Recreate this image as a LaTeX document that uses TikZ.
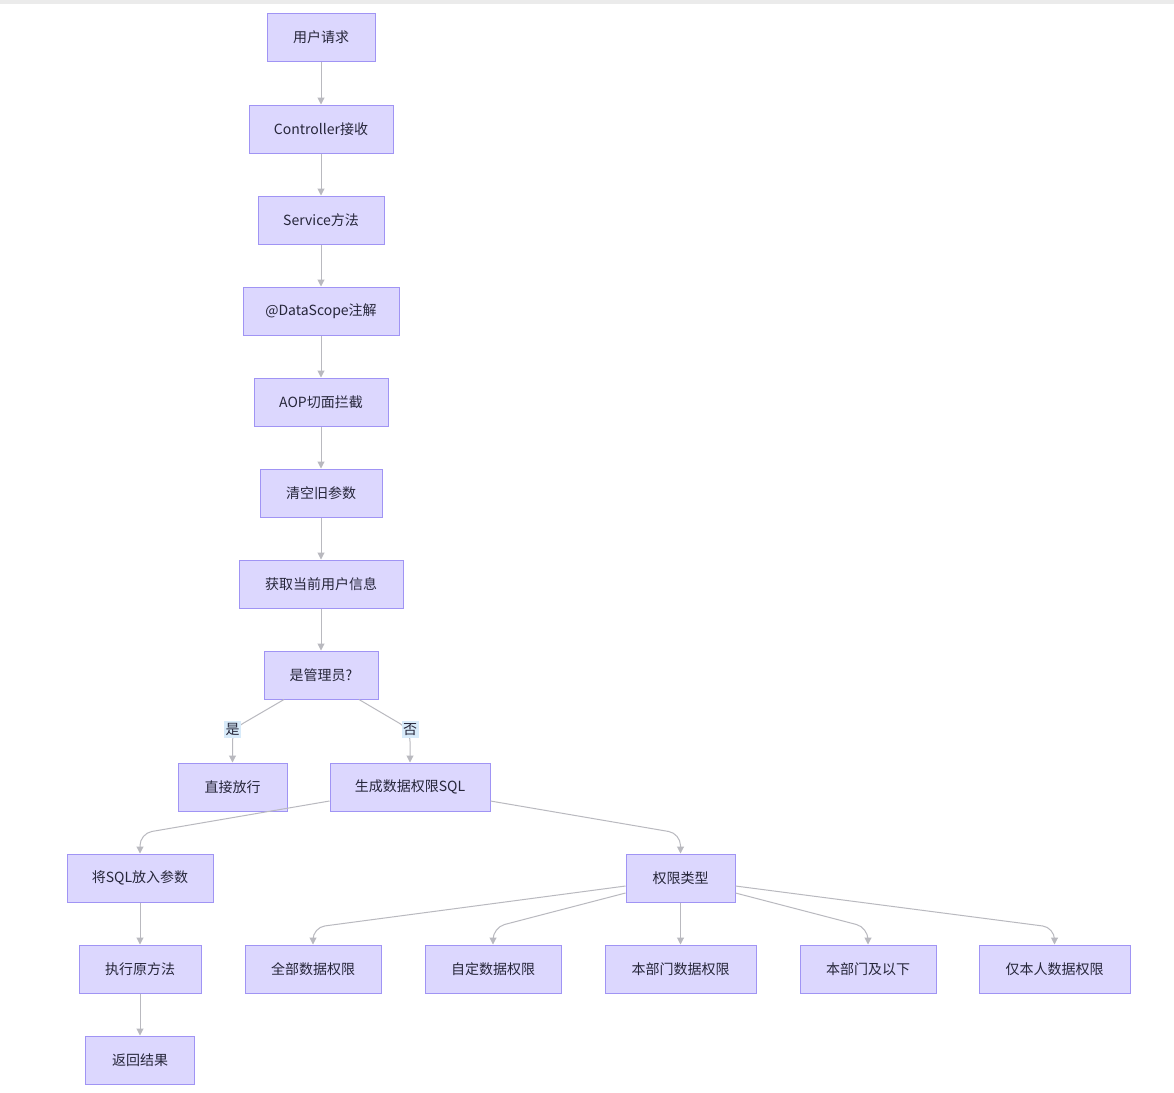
\documentclass[tikz,border=0pt]{standalone}
\usepackage{fontspec}
\setmainfont{Noto Sans CJK SC}
\usetikzlibrary{arrows.meta,calc}
\definecolor{nfill}{HTML}{DCD7FE}
\definecolor{nstroke}{HTML}{A094F4}
\definecolor{ntext}{HTML}{26263A}
\definecolor{ecol}{HTML}{B9B9BF}
\definecolor{lblue}{HTML}{D8EBFA}
\definecolor{topbar}{HTML}{EBEBEB}
\begin{document}
\begin{tikzpicture}[x=1pt,y=-1pt,
  box/.style={draw=nstroke, fill=nfill, line width=1pt, minimum height=48pt, inner sep=0pt, font=\fontsize{14}{16}\selectfont, text=ntext},
  edge/.style={draw=ecol, line width=1pt, -{Triangle[width=7pt,length=7pt]}},
  rc/.style={rounded corners=12pt},
  lbl/.style={fill=lblue, inner xsep=1.5pt, inner ysep=2pt, font=\fontsize{14}{16}\selectfont, text=ntext}]
\useasboundingbox (0,0) rectangle (1174,1092);
\fill[white] (0,0) rectangle (1174,1092);
\fill[topbar] (0,0) rectangle (1174,3.5);

\node[box, minimum width=108pt] (req) at (321,37.5) {用户请求};
\node[box, minimum width=144pt] (ctl) at (321,129) {Controller接收};
\node[box, minimum width=126pt] (svc) at (321,220) {Service方法};
\node[box, minimum width=156pt] (ann) at (321,311) {@DataScope注解};
\node[box, minimum width=134pt] (aop) at (321,402) {AOP切面拦截};
\node[box, minimum width=122pt] (clr) at (321,493) {清空旧参数};
\node[box, minimum width=164pt] (usr) at (321,584) {获取当前用户信息};
\node[box, minimum width=114pt] (dec) at (321,675) {是管理员?};
\node[box, minimum width=109pt] (yes) at (232.5,787) {直接放行};
\node[box, minimum width=160pt] (gen) at (410,787) {生成数据权限SQL};
\node[box, minimum width=146pt] (sql) at (140,878) {将SQL放入参数};
\node[box, minimum width=109pt] (perm) at (680.5,878) {权限类型};
\node[box, minimum width=122pt] (exe) at (140,969) {执行原方法};
\node[box, minimum width=109pt] (ret) at (140,1060) {返回结果};
\node[box, minimum width=136pt] (all) at (313,969) {全部数据权限};
\node[box, minimum width=136pt] (cus) at (493,969) {自定数据权限};
\node[box, minimum width=151pt] (dep) at (680.5,969) {本部门数据权限};
\node[box, minimum width=136pt] (sub) at (868,969) {本部门及以下};
\node[box, minimum width=151pt] (own) at (1054.5,969) {仅本人数据权限};

\draw[edge] (req) -- (ctl);
\draw[edge] (ctl) -- (svc);
\draw[edge] (svc) -- (ann);
\draw[edge] (ann) -- (aop);
\draw[edge] (aop) -- (clr);
\draw[edge] (clr) -- (usr);
\draw[edge] (usr) -- (dec);

\draw[edge,rc] ($(dec.south)+(-37,0)$) -- ($(yes.north)+(0,-33)$) -- (yes.north);
\draw[edge,rc] ($(dec.south)+(38,0)$) -- ($(gen.north)+(0,-33)$) -- (gen.north);
\node[lbl] (lyes) at ($(yes.north)+(0,-33)$) {是};
\node[lbl] (lno) at ($(gen.north)+(0,-33)$) {否};

\draw[edge,rc] ($(gen.west)+(0,14)$) -- ($(sql.north)+(0,-20)$) -- (sql.north);
\draw[edge,rc] ($(gen.east)+(0,14)$) -- ($(perm.north)+(0,-20)$) -- (perm.north);

\draw[edge] (sql) -- (exe);
\draw[edge] (exe) -- (ret);

\draw[edge,rc] ($(perm.west)+(0,8)$) -- ($(all.north)+(0,-17)$) -- (all.north);
\draw[edge,rc] ($(perm.west)+(0,15)$) -- ($(cus.north)+(0,-17)$) -- (cus.north);
\draw[edge] (perm) -- (dep);
\draw[edge,rc] ($(perm.east)+(0,15)$) -- ($(sub.north)+(0,-17)$) -- (sub.north);
\draw[edge,rc] ($(perm.east)+(0,8)$) -- ($(own.north)+(0,-17)$) -- (own.north);
\end{tikzpicture}
\end{document}
